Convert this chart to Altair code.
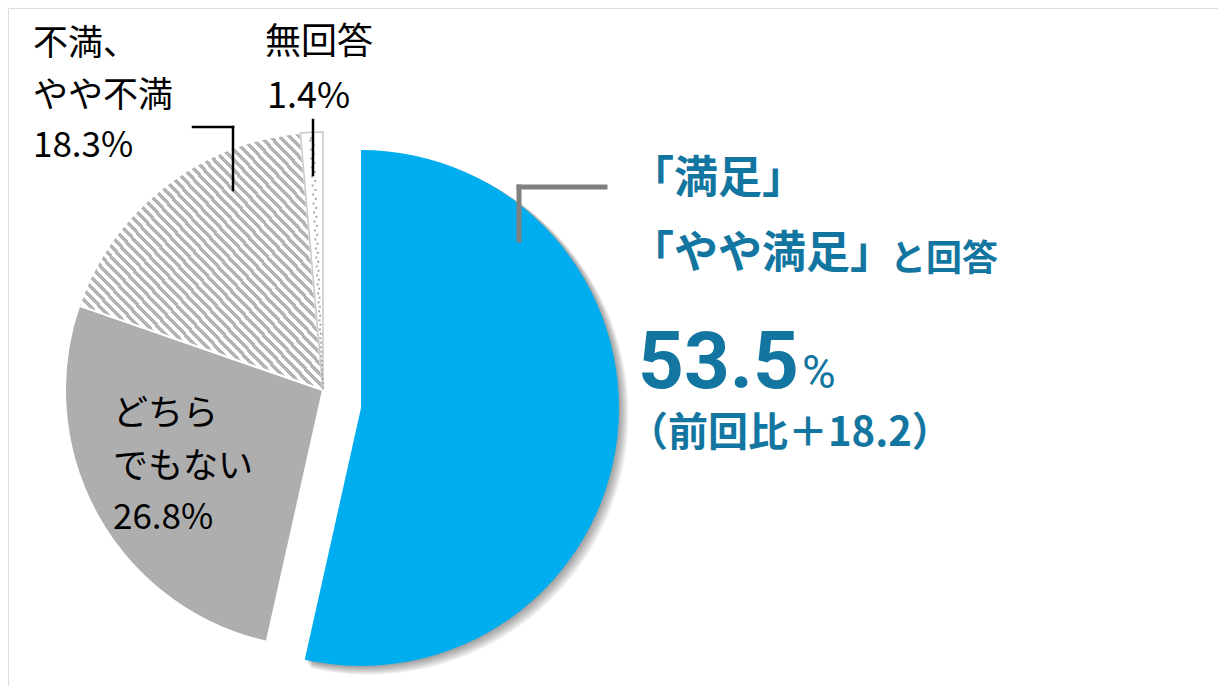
import math
import altair as alt
import pandas as pd

# ---- data ----
categories = ["満足・やや満足", "どちらでもない", "不満・やや不満", "無回答"]
values = [53.5, 26.8, 18.3, 1.4]
order = [1, 2, 3, 4]

label_unsat = ["不満、", "やや不満", "18.3%"]
label_none = ["無回答", "1.4%"]
label_neutral = ["どちら", "でもない", "26.8%"]
headline = ["「満足」", "「やや満足」", "と回答"]
big_value = "53.5"
big_unit = "%"
diff_text = "（前回比＋18.2）"

df = pd.DataFrame({"cat": categories, "value": values, "order": order})

BLUE = "#00AEEF"
GRAY = "#AEAEAE"
TXT_BLUE = "#1276A1"
JP = "Noto Sans CJK JP"
R = 258
BX, BY = 353, 400      # exploded blue slice centre
CX, CY = 315, 382      # rest of the pie

base = (
    alt.Chart(df)
    .transform_window(cum="sum(value)", sort=[alt.SortField("order")], frame=[None, 0])
    .transform_calculate(start="datum.cum - datum.value")
)
theta = alt.Theta("start:Q", stack=None, scale=alt.Scale(domain=[0, 100], range=[0, 2 * math.pi]))
theta2 = alt.Theta2("cum:Q")


def slice_layer(cat, cx, cy, **mark):
    return (
        base.transform_filter(alt.datum.cat == cat)
        .mark_arc(**mark)
        .encode(theta=theta, theta2=theta2, x=alt.value(cx), y=alt.value(cy))
    )


# hatch via a striped linear gradient
N = 50
stops = []
for k in range(N):
    a, b, c = k / N, (k + 0.5) / N, (k + 1) / N
    stops += [
        {"offset": a, "color": "#B4B4B4"},
        {"offset": b, "color": "#B4B4B4"},
        {"offset": b, "color": "#FFFFFF"},
        {"offset": c, "color": "#FFFFFF"},
    ]
hatch = {"gradient": "linear", "x1": 0, "y1": 1, "x2": 1, "y2": 0, "stops": stops}

layers = []
# soft shadow for blue slice
for i in range(1, 9):
    layers.append(
        slice_layer(categories[0], BX + i * 0.9, BY + i * 0.8, radius=R + 0.3 * i,
                    fill="#000000", fillOpacity=0.05, strokeOpacity=0)
    )
layers.append(slice_layer(categories[0], BX, BY, radius=R, fill=BLUE))
layers.append(slice_layer(categories[1], CX, CY, radius=R, fill=GRAY, stroke="white", strokeWidth=2))
layers.append(slice_layer(categories[2], CX, CY, radius=R, fill=hatch, stroke="white", strokeWidth=2))
layers.append(slice_layer(categories[3], CX, CY, radius=R, fill="white", stroke="#C8C8C8", strokeWidth=1.5))
layers.append(slice_layer(categories[3], CX, CY, radius=R - 6, fill="transparent", stroke="#A8A8A8",
                          strokeWidth=2, strokeDash=[2, 7], padAngle=0.075))


def rule(x1, y1, x2, y2, color="black", w=2.5):
    return alt.Chart(pd.DataFrame({"a": [0]})).mark_rule(
        color=color, strokeWidth=w, strokeCap="square"
    ).encode(x=alt.value(x1), x2=alt.value(x2), y=alt.value(y1), y2=alt.value(y2))


layers += [
    rule(185, 119, 225, 119),
    rule(225, 119, 225, 182),
    rule(305, 112, 305, 167),
    rule(511, 179, 597, 179, color="#808080", w=5),
    rule(511, 179, 511, 232, color="#808080", w=5),
]


def txt(s, x, y, size, color="black", weight="normal", font=JP, baseline="middle"):
    return alt.Chart(pd.DataFrame({"t": [s]})).mark_text(
        align="left", baseline=baseline, fontSize=size, font=font, fontWeight=weight, color=color
    ).encode(text="t:N", x=alt.value(x), y=alt.value(y))


for s, y in zip(label_unsat, [36, 88, 138]):
    layers.append(txt(s, 25, y, 35))
for s, y, x in zip(label_none, [35, 89], [257, 259]):
    layers.append(txt(s, x, y, 36))
for s, y in zip(label_neutral, [406, 459, 510]):
    layers.append(txt(s, 105, y, 35))

layers.append(txt(headline[0], 622, 172, 44, TXT_BLUE, "bold"))
layers.append(txt(headline[1], 622, 247, 44, TXT_BLUE, "bold"))
layers.append(txt(headline[2], 882, 252, 36, TXT_BLUE, "bold"))
NUMFONT = "Roboto, Noto Sans CJK JP"
layers.append(txt(big_value, 630, 380, 80, TXT_BLUE, "bold", font=NUMFONT, baseline="alphabetic"))
layers.append(txt(big_unit, 794, 380, 46, TXT_BLUE, "normal", font=NUMFONT, baseline="alphabetic"))
layers.append(txt(diff_text, 620, 426, 40, TXT_BLUE, "bold"))

chart = (
    alt.layer(*layers)
    .properties(width=1210, height=678, padding=0, autosize=alt.AutoSizeParams(type="none"))
    .configure_view(stroke=None)
    .configure(background="white")
)

chart.save("out.html", embed_options={"renderer": "svg", "actions": False})
